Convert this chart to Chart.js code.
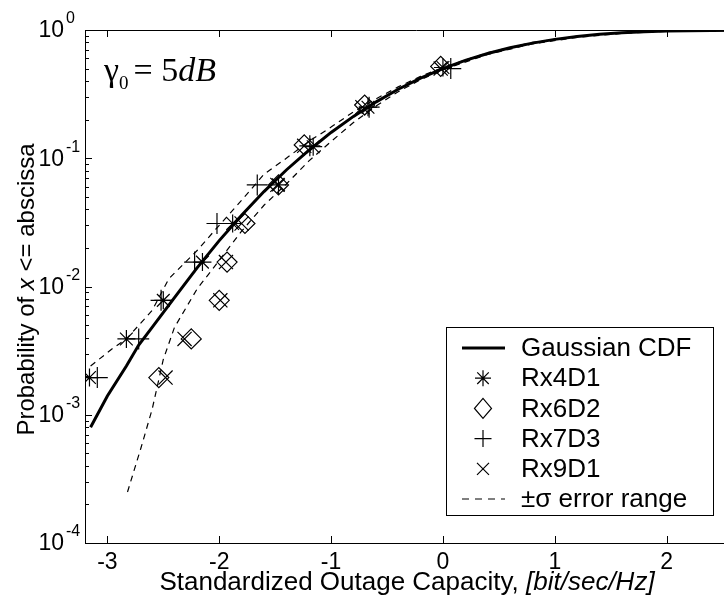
<!DOCTYPE html>
<html><head><meta charset="utf-8">
<script src="https://cdn.jsdelivr.net/npm/chart.js@4.4.0/dist/chart.umd.min.js"></script>
<style>html,body{margin:0;padding:0;background:#fff;overflow:hidden;} #wrap{width:760px;height:599px;}</style>
</head><body><div id="wrap"><canvas id="c" width="760" height="599"></canvas></div>
<script>
// ---- data ----
const xTicks = [-3, -2, -1, 0, 1, 2];
const yTicks = [1e-4, 1e-3, 1e-2, 1e-1, 1];
const yExponents = ['-4', '-3', '-2', '-1', '0'];

const gaussX = [-3.15, -3.0, -2.83, -2.72, -2.6, -2.4, -2.2, -2.0, -1.8, -1.6, -1.4, -1.2, -1.0, -0.8, -0.6, -0.4, -0.2, 0, 0.2, 0.4, 0.6, 0.8, 1.0, 1.2, 1.4, 1.6, 1.8, 2.0, 2.2, 2.4, 2.7];
const gaussP = [8.0e-4, 1.4e-3, 2.4e-3, 3.5e-3, 4.8e-3, 8.2e-3, 0.0139, 0.0228, 0.036, 0.055, 0.081, 0.115, 0.159, 0.212, 0.274, 0.345, 0.421, 0.50, 0.58, 0.655, 0.726, 0.79, 0.845, 0.89, 0.925, 0.95, 0.968, 0.98, 0.988, 0.993, 0.997];

const errHiX = [-3.15, -2.95, -2.83, -2.6, -2.45, -2.2, -2.0, -1.8, -1.6, -1.4, -1.2, -1.0, -0.8, -0.6, -0.4, -0.2, 0, 0.4, 0.8, 1.2, 1.6, 2.0, 2.4, 2.7];
const errHiP = [2.4e-3, 3.3e-3, 3.9e-3, 6.5e-3, 0.0115, 0.019, 0.030, 0.047, 0.075, 0.10, 0.135, 0.175, 0.23, 0.29, 0.36, 0.435, 0.51, 0.665, 0.80, 0.895, 0.955, 0.983, 0.994, 0.998];

const errLoX = [-2.82, -2.7, -2.6, -2.5, -2.4, -2.2, -2.0, -1.8, -1.6, -1.4, -1.2, -1.0, -0.8, -0.6, -0.4, -0.2, 0, 0.4, 0.8, 1.2, 1.6, 2.0, 2.4, 2.7];
const errLoP = [2.5e-4, 5.5e-4, 1.1e-3, 2.7e-3, 4.8e-3, 9.5e-3, 0.016, 0.027, 0.043, 0.063, 0.095, 0.135, 0.19, 0.255, 0.33, 0.41, 0.49, 0.645, 0.78, 0.875, 0.94, 0.975, 0.99, 0.996];

const rx4d1X = [-3.16, -2.83, -2.50, -2.15, -1.88, -1.47, -1.16, -0.67, 0.0];
const rx4d1P = [1.95e-3, 3.9e-3, 7.8e-3, 0.0155, 0.031, 0.062, 0.123, 0.25, 0.51];
const rx6d2X = [-2.54, -2.25, -2.0, -1.93, -1.77, -1.47, -1.24, -0.70, -0.02];
const rx6d2P = [1.95e-3, 3.9e-3, 7.8e-3, 0.0155, 0.031, 0.062, 0.127, 0.26, 0.52];
const rx7d3X = [-3.09, -2.72, -2.52, -2.22, -2.02, -1.66, -1.19, -0.66, 0.07];
const rx7d3P = [1.95e-3, 3.9e-3, 7.8e-3, 0.0155, 0.031, 0.062, 0.125, 0.25, 0.5];
const rx9d1X = [-2.48, -2.31, -1.99, -1.94, -1.80, -1.48, -1.24, -0.72, -0.02];
const rx9d1P = [1.95e-3, 3.9e-3, 7.8e-3, 0.0155, 0.031, 0.062, 0.125, 0.25, 0.5];

const seriesLabels = ['Gaussian CDF', 'Rx4D1', 'Rx6D2', 'Rx7D3', 'Rx9D1', '\u00b1\u03c3 error range'];
const xTitleMain = 'Standardized Outage Capacity, ';
const xTitleUnit = '[bit/sec/Hz]';
const yTitleParts = ['Probability of ', 'x', ' <= abscissa'];

const pts = (xs, ys) => xs.map((x, i) => ({x: x, y: ys[i]}));

const lineDS = (label, xs, ys, w, dash) => ({
  label, data: pts(xs, ys), showLine: true, pointRadius: 0, borderColor: '#000',
  borderWidth: w, borderDash: dash, fill: false, tension: 0
});
const markDS = (label, xs, ys, style, r) => ({
  label, data: pts(xs, ys), showLine: false, pointStyle: style, pointRadius: r,
  borderColor: '#000', backgroundColor: 'rgba(0,0,0,0)', pointBorderWidth: 1.2
});

const FONT = '"Liberation Sans", Arial, sans-serif';

function drawSym(ctx, kind, x, y, s) {
  ctx.beginPath();
  if (kind === 'star') {
    ctx.moveTo(x - s, y); ctx.lineTo(x + s, y);
    ctx.moveTo(x, y - s); ctx.lineTo(x, y + s);
    const d = s * 0.72;
    ctx.moveTo(x - d, y - d); ctx.lineTo(x + d, y + d);
    ctx.moveTo(x - d, y + d); ctx.lineTo(x + d, y - d);
  } else if (kind === 'rectRot') {
    ctx.moveTo(x - s * 0.85, y); ctx.lineTo(x, y - s); ctx.lineTo(x + s * 0.85, y); ctx.lineTo(x, y + s); ctx.closePath();
  } else if (kind === 'cross') {
    ctx.moveTo(x - s, y); ctx.lineTo(x + s, y);
    ctx.moveTo(x, y - s); ctx.lineTo(x, y + s);
  } else if (kind === 'crossRot') {
    ctx.moveTo(x - s, y - s); ctx.lineTo(x + s, y + s);
    ctx.moveTo(x - s, y + s); ctx.lineTo(x + s, y - s);
  }
  ctx.stroke();
}

const decor = {
  id: 'decor',
  afterDraw(chart) {
    const ctx = chart.ctx, xs = chart.scales.x, ys = chart.scales.y, ca = chart.chartArea;
    ctx.save();
    ctx.strokeStyle = '#000'; ctx.fillStyle = '#000'; ctx.lineWidth = 1;
    // top border
    ctx.beginPath(); ctx.moveTo(ca.left, ca.top + 0.5); ctx.lineTo(ca.right, ca.top + 0.5); ctx.stroke();
    // x ticks (inward, bottom and top)
    ctx.beginPath();
    xTicks.forEach(v => {
      const px = Math.round(xs.getPixelForValue(v)) + 0.5;
      ctx.moveTo(px, ca.bottom); ctx.lineTo(px, ca.bottom - 7);
      ctx.moveTo(px, ca.top); ctx.lineTo(px, ca.top + 7);
    });
    // y ticks major + minor
    yTicks.forEach((v, i) => {
      const py = Math.round(ys.getPixelForValue(v)) + 0.5;
      ctx.moveTo(ca.left, py); ctx.lineTo(ca.left + 7, py);
      if (i < yTicks.length - 1) {
        for (let m = 2; m <= 9; m++) {
          const q = Math.round(ys.getPixelForValue(v * m)) + 0.5;
          ctx.moveTo(ca.left, q); ctx.lineTo(ca.left + 4, q);
        }
      }
    });
    ctx.stroke();
    // y tick labels 10^k
    ctx.textBaseline = 'middle';
    yTicks.forEach((v, i) => {
      const py = ys.getPixelForValue(v);
      ctx.font = '23px ' + FONT; ctx.textAlign = 'right';
      ctx.fillText('10', 64, py + 1);
      ctx.font = '16px ' + FONT; ctx.textAlign = 'left';
      ctx.fillText(yExponents[i], 66, py - 11);
    });
    // x title
    ctx.textBaseline = 'middle';
    ctx.font = '26px ' + FONT;
    const w1 = ctx.measureText(xTitleMain).width;
    ctx.font = 'italic 26px ' + FONT;
    const w2 = ctx.measureText(xTitleUnit).width;
    let sx = 407 - (w1 + w2) / 2;
    ctx.textAlign = 'left';
    ctx.font = '26px ' + FONT; ctx.fillText(xTitleMain, sx, 583);
    ctx.font = 'italic 26px ' + FONT; ctx.fillText(xTitleUnit, sx + w1, 583);
    // y title
    ctx.save();
    ctx.translate(27, (ca.top + ca.bottom) / 2 + 3);
    ctx.rotate(-Math.PI / 2);
    const fonts = ['24px ' + FONT, 'italic 24px ' + FONT, '24px ' + FONT];
    const ws = yTitleParts.map((t, i) => { ctx.font = fonts[i]; return ctx.measureText(t).width; });
    let tx = -(ws[0] + ws[1] + ws[2]) / 2;
    yTitleParts.forEach((t, i) => { ctx.font = fonts[i]; ctx.fillText(t, tx, 0); tx += ws[i]; });
    ctx.restore();
    // annotation gamma_0 = 5dB
    ctx.textBaseline = 'alphabetic'; ctx.textAlign = 'left';
    ctx.font = '34px "Liberation Serif", serif';
    let ax = 104;
    ctx.fillText('\u03b3', ax, 81); ax += ctx.measureText('\u03b3').width;
    ctx.font = '19px "Liberation Serif", serif';
    ctx.fillText('0', ax, 89); ax += ctx.measureText('0').width + 5;
    ctx.font = '34px "Liberation Serif", serif';
    ctx.fillText('= 5', ax, 81); ax += ctx.measureText('= 5').width;
    ctx.font = 'italic 34px "Liberation Serif", serif';
    ctx.fillText('dB', ax, 81);
    // legend
    const L = {l: 446, t: 327, r: 713, b: 515};
    ctx.fillStyle = '#fff';
    ctx.fillRect(L.l, L.t, L.r - L.l, L.b - L.t);
    ctx.strokeStyle = '#000'; ctx.lineWidth = 1;
    ctx.strokeRect(L.l + 0.5, L.t + 0.5, L.r - L.l, L.b - L.t);
    ctx.fillStyle = '#000';
    const kinds = ['line', 'star', 'rectRot', 'cross', 'crossRot', 'dash'];
    const sizes = [0, 8, 10, 8.5, 6, 0];
    ctx.font = '26px ' + FONT; ctx.textBaseline = 'middle'; ctx.textAlign = 'left';
    seriesLabels.forEach((lab, i) => {
      const y = 348 + i * 30.2;
      const k = kinds[i];
      if (k === 'line') {
        ctx.lineWidth = 3; ctx.setLineDash([]);
        ctx.beginPath(); ctx.moveTo(462, y); ctx.lineTo(505, y); ctx.stroke();
      } else if (k === 'dash') {
        ctx.lineWidth = 1.2; ctx.setLineDash([7, 6]);
        ctx.beginPath(); ctx.moveTo(462, y); ctx.lineTo(505, y); ctx.stroke();
        ctx.setLineDash([]);
      } else {
        ctx.lineWidth = 1.2; drawSym(ctx, k, 483, y, sizes[i]);
      }
      ctx.fillText(lab, 521, y + 1);
    });
    ctx.restore();
  }
};

new Chart(document.getElementById('c'), {
  type: 'scatter',
  data: {
    datasets: [
      lineDS(seriesLabels[0], gaussX, gaussP, 3, []),
      lineDS(seriesLabels[5], errHiX, errHiP, 1.2, [6, 5]),
      lineDS(seriesLabels[5], errLoX, errLoP, 1.2, [6, 5]),
      markDS(seriesLabels[1], rx4d1X, rx4d1P, 'star', 9),
      markDS(seriesLabels[2], rx6d2X, rx6d2P, 'rectRot', 10),
      markDS(seriesLabels[3], rx7d3X, rx7d3P, 'cross', 10.5),
      markDS(seriesLabels[4], rx9d1X, rx9d1P, 'crossRot', 10)
    ]
  },
  options: {
    responsive: false, animation: false, devicePixelRatio: 1,
    layout: {padding: {top: 30, left: 0, right: 0, bottom: 0}},
    plugins: {legend: {display: false}, tooltip: {enabled: false}},
    scales: {
      x: {
        type: 'linear', min: -3.2, max: 2.73,
        afterBuildTicks: s => { s.ticks = xTicks.map(v => ({value: v})); },
        afterFit: s => { s.height = 56; },
        grid: {display: false, drawTicks: false},
        border: {display: true, color: '#000', width: 1},
        ticks: {color: '#000', font: {family: 'Liberation Sans', size: 23}, padding: 6, maxRotation: 0, autoSkip: false}
      },
      y: {
        type: 'logarithmic', min: 1e-4, max: 1,
        afterBuildTicks: s => { s.ticks = yTicks.map(v => ({value: v})); },
        afterFit: s => { s.width = 85; },
        grid: {display: false, drawTicks: false},
        border: {display: true, color: '#000', width: 1},
        ticks: {display: false}
      }
    }
  },
  plugins: [decor]
});
</script></body></html>
